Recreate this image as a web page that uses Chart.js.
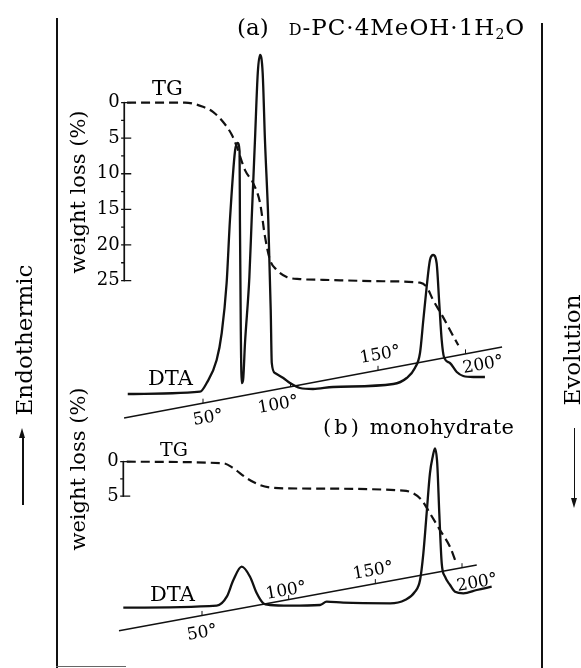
<!DOCTYPE html>
<html>
<head>
<meta charset="utf-8">
<script src="https://cdn.jsdelivr.net/npm/chart.js@4/dist/chart.umd.min.js"></script>
<style>
  html, body { margin: 0; padding: 0; background: #fff; }
  #wrap { position: relative; width: 581px; height: 668px; overflow: hidden; background: #fff; }
  #c { position: absolute; left: 0; top: 0; }
  .t { position: absolute; font-family: 'DejaVu Serif', serif; color: #000; line-height: 1; white-space: nowrap; pointer-events: none; }
  .ln { position: absolute; background: #111; }
  .tl { position: absolute; font-family: 'DejaVu Serif', serif; color: #000; font-size: 17px; line-height: 1; white-space: nowrap; transform: translate(-50%, -50%) rotate(-10deg); }
</style>
</head>
<body>
<div id="wrap">
  <canvas id="c" width="581" height="668"></canvas>

  <!-- frame -->
  <div class="ln" style="left:56px;top:18px;width:2px;height:650px;"></div>
  <div class="ln" style="left:56px;top:666px;width:70px;height:1px;background:#666;"></div>
  <div class="ln" style="left:541px;top:23px;width:2px;height:645px;"></div>

  <!-- side labels -->
  <div class="t" style="font-size:23px;left:23.7px;top:340px;transform:translate(-50%,-50%) rotate(-90deg);">Endothermic</div>
  <div class="ln" style="left:22px;top:436px;width:1.5px;height:69px;"></div>
  <div style="position:absolute;left:19px;top:428px;width:0;height:0;border-left:3.8px solid transparent;border-right:3.8px solid transparent;border-bottom:10px solid #111;"></div>
  <div class="t" style="font-size:23px;left:572px;top:350px;transform:translate(-50%,-50%) rotate(-90deg);">Evolution</div>
  <div class="ln" style="left:573.5px;top:428px;width:1.5px;height:72px;"></div>
  <div style="position:absolute;left:570.5px;top:498px;width:0;height:0;border-left:3.8px solid transparent;border-right:3.8px solid transparent;border-top:10px solid #111;"></div>

  <!-- panel titles -->
  <div class="t" style="font-size:23px;left:237px;top:15.5px;"><span>(a)</span><span style="margin-left:20px;letter-spacing:1px;"><span style="font-size:16px;">D</span>-PC·4MeOH·1H<span style="font-size:14px;position:relative;top:4px;">2</span>O</span></div>
  <div class="t" style="font-size:21px;left:323px;top:416.5px;"><span style="letter-spacing:3px;">(b)</span><span style="margin-left:8px;letter-spacing:0.3px;">monohydrate</span></div>

  <!-- curve labels -->
  <div class="t" style="font-size:21px;left:152px;top:77.5px;">TG</div>
  <div class="t" style="font-size:21px;left:148px;top:367.5px;">DTA</div>
  <div class="t" style="font-size:19px;left:160px;top:439.5px;">TG</div>
  <div class="t" style="font-size:21px;left:150px;top:584.2px;">DTA</div>

  <!-- y-axis titles -->
  <div class="t" style="font-size:21px;left:78px;top:192px;transform:translate(-50%,-50%) rotate(-90deg);">weight loss (%)</div>
  <div class="t" style="font-size:21px;left:78px;top:469px;transform:translate(-50%,-50%) rotate(-90deg);">weight loss (%)</div>
</div>

<script>
// ---------------- DATA ----------------
// Temperature ticks (°C) on the slanted temperature lines
const tempTicks = [50, 100, 150, 200];
// TG axis tick labels (weight loss %)
const tgTicksA = [0, 5, 10, 15, 20, 25];
const tgTicksB = [0, 5];

// (a) D-PC·4MeOH·1H2O — DTA trace (temperature °C, ΔT arbitrary units, endothermic up)
const dtaA_T = [7, 48.3, 52.1, 57.8, 60.7, 63.5, 65.4, 68.3, 69.8, 70.9, 71.1, 71.6, 72.1, 72.9, 74.0, 76.5, 77.8, 79.7, 81.3, 82.6, 84.1, 85.4, 87.3, 88.7, 89.3, 91.1, 95.9, 99.7, 105.4, 112.9, 124.3, 158.7, 166.4, 171.1, 174.0, 175.9, 177.8, 179.7, 181.6, 183.5, 185.0, 186.4, 187.7, 191.1, 195.0, 198.7, 204.5, 211.1];
const dtaA_V = [0, 0.23, 1.1, 3.4, 6.1, 11.1, 17.4, 24.3, 25.1, 24.3, 17.4, 6.4, 1.1, 1.4, 5.1, 11.7, 17.4, 25.4, 32.1, 33.9, 32.1, 25.4, 17.4, 8.4, 3.1, 2.1, 1.6, 1.1, 0.6, 0.5, 0.7, 1.0, 1.6, 2.6, 4.1, 7.4, 10.7, 13.4, 13.9, 13.1, 9.1, 5.4, 3.7, 3.1, 2.2, 1.8, 1.7, 1.7];
// (a) TG trace (temperature °C, weight loss %)
const tgA_T = [6.6, 39.7, 50, 55.7, 61.4, 66.6, 69.3, 74.0, 78.6, 82.6, 85.4, 88.3, 92.1, 97.8, 105.4, 118.6, 152.9, 174.0, 177.8, 181.4, 187.1, 192.1, 195.9];
const tgA_W = [0, 0, 0.6, 1.3, 2.7, 4.6, 6.2, 9.5, 11.3, 14.1, 18.8, 22.1, 23.5, 24.5, 24.8, 24.9, 25.1, 25.3, 25.9, 27.7, 30.1, 32.4, 34.1];
// (a) slanted temperature line (start/end temperature, ΔT units)
const baseA_T = [4.9, 220.9];
const baseA_V = [-2.4, 4.7];

// (b) monohydrate — DTA trace
const dtaB_T = [4.6, 58.5, 64.3, 68.1, 72.9, 77.7, 81.6, 85.4, 89.2, 100.8, 118.1, 121.9, 131.5, 158.5, 167.1, 172.9, 175.8, 177.7, 179.6, 181.5, 183.1, 184.4, 185.7, 186.9, 188.3, 190.2, 193.1, 196.0, 200.8, 208.5, 217.1];
const dtaB_V = [0, 0.2, 1.1, 2.77, 4.1, 3.1, 1.44, 0.44, 0.27, 0.2, 0.27, 0.6, 0.5, 0.44, 0.77, 1.6, 2.77, 5.44, 9.44, 13.44, 15.1, 15.94, 14.44, 9.44, 4.44, 3.1, 2.27, 1.6, 1.44, 1.77, 2.1];
// (b) TG trace
const tgB_T = [6.6, 62.3, 68.1, 75.8, 83.5, 91.1, 106.5, 166.1, 171.9, 176.8, 181.5, 187.3, 193.1, 196.0];
const tgB_W = [0, 0.23, 0.95, 2.4, 3.4, 3.8, 3.9, 4.2, 4.6, 5.6, 7.5, 9.96, 12.4, 14.3];
// (b) slanted temperature line
const baseB_T = [2.1, 208.5];
const baseB_V = [-2.3, 4.27];

// ---------------- LAYOUT / STYLE (not data) ----------------
const INK = '#111';
const tgAxisAtA = 5;     // temperature value where TG axis (a) stands
const tgAxisAtB = 4.6;   // temperature value where TG axis (b) stands
const labelGap = 2.6;    // °C gap between TG tick labels and axis line
const majorLeft = 1.8;   // major TG tick extent left of axis (°C)
const majorRight = 4;    // major TG tick extent right of axis (°C)
const minorLen = 1.8;    // minor TG tick length, left side (°C)
const labelOffsetA = { 50: [5, 14], 100: [-13, 17], 150: [2, -16], 200: [17, 10] };
const labelOffsetB = { 50: [0, 17], 100: [-3, -10], 150: [-2, -14], 200: [15, 14] };

// ---------------- BUILD ----------------
const pts = (xs, ys) => xs.map((x, i) => ({ x: x, y: ys[i] }));
const lineAt = (Ts, Vs, T) => Vs[0] + (Vs[1] - Vs[0]) * (T - Ts[0]) / (Ts[1] - Ts[0]);
function withMinor(major) {
  const out = [];
  major.forEach((v, i) => {
    out.push(v);
    if (i < major.length - 1) out.push((v + major[i + 1]) / 2);
  });
  return out;
}
function tickSegs(Ts, Vs) {
  const out = [];
  tempTicks.forEach(T => {
    const v = lineAt(Ts, Vs, T);
    out.push({ x: T, y: v }, { x: T, y: v + 0.45 }, { x: T, y: null });
  });
  return out;
}
function tgTickSegs(at, ticksArr) {
  const out = [];
  withMinor(ticksArr).forEach(v => {
    const major = ticksArr.indexOf(v) >= 0;
    const x0 = major ? at - majorLeft : at - minorLen;
    const x1 = major ? at + majorRight : at;
    out.push({ x: x0, y: v }, { x: x1, y: v }, { x: x1, y: null });
  });
  return out;
}

const solid = { borderColor: INK, pointRadius: 0, fill: false, cubicInterpolationMode: 'monotone' };
const seg = { borderColor: INK, pointRadius: 0, spanGaps: false, tension: 0 };

const datasets = [
  Object.assign({ label: 'DTA (a)', data: pts(dtaA_T, dtaA_V), xAxisID: 'xa', yAxisID: 'ya', borderWidth: 2.3 }, solid),
  Object.assign({ label: 'TG (a)', data: pts(tgA_T, tgA_W), xAxisID: 'xa', yAxisID: 'tga', borderWidth: 2.2, borderDash: [9, 5] }, solid),
  Object.assign({ label: 'T line (a)', data: pts(baseA_T, baseA_V), xAxisID: 'xa', yAxisID: 'ya', borderWidth: 1.4 }, seg),
  Object.assign({ label: 'T ticks (a)', data: tickSegs(baseA_T, baseA_V), xAxisID: 'xa', yAxisID: 'ya', borderWidth: 1 }, seg),
  Object.assign({ label: 'TG axis (a)', data: [{ x: tgAxisAtA, y: tgTicksA[0] }, { x: tgAxisAtA, y: tgTicksA[tgTicksA.length - 1] }], xAxisID: 'xa', yAxisID: 'tga', borderWidth: 1.7 }, seg),
  Object.assign({ label: 'TG ticks (a)', data: tgTickSegs(tgAxisAtA, tgTicksA), xAxisID: 'xa', yAxisID: 'tga', borderWidth: 1.3 }, seg),

  Object.assign({ label: 'DTA (b)', data: pts(dtaB_T, dtaB_V), xAxisID: 'xb', yAxisID: 'yb', borderWidth: 2.3 }, solid),
  Object.assign({ label: 'TG (b)', data: pts(tgB_T, tgB_W), xAxisID: 'xb', yAxisID: 'tgb', borderWidth: 2.2, borderDash: [9, 5] }, solid),
  Object.assign({ label: 'T line (b)', data: pts(baseB_T, baseB_V), xAxisID: 'xb', yAxisID: 'yb', borderWidth: 1.4 }, seg),
  Object.assign({ label: 'T ticks (b)', data: tickSegs(baseB_T, baseB_V), xAxisID: 'xb', yAxisID: 'yb', borderWidth: 1 }, seg),
  Object.assign({ label: 'TG axis (b)', data: [{ x: tgAxisAtB, y: tgTicksB[0] }, { x: tgAxisAtB, y: tgTicksB[tgTicksB.length - 1] }], xAxisID: 'xb', yAxisID: 'tgb', borderWidth: 1.7 }, seg),
  Object.assign({ label: 'TG ticks (b)', data: tgTickSegs(tgAxisAtB, tgTicksB), xAxisID: 'xb', yAxisID: 'tgb', borderWidth: 1.3 }, seg)
];

function tgScale(axisX, xValue, ticksArr, min, max) {
  const pos = {}; pos[axisX] = xValue - labelGap;
  return {
    type: 'linear', axis: 'y', position: pos, reverse: true, min: min, max: max,
    afterBuildTicks: s => { s.ticks = ticksArr.map(v => ({ value: v })); },
    afterFit: s => { s.paddingTop = 0; s.paddingBottom = 0; s.paddingLeft = 0; s.paddingRight = 0; },
    border: { display: false },
    grid: { display: false, drawOnChartArea: false, drawTicks: false },
    ticks: {
      autoSkip: false, padding: 0, color: '#000',
      font: { family: "'DejaVu Serif', serif", size: 18 },
      callback: v => String(v)
    }
  };
}

function placeLabels(chart, xid, yid, Ts, Vs, offs, tag) {
  const wrap = document.getElementById('wrap');
  tempTicks.forEach(T => {
    const id = 'tl' + tag + T;
    let el = document.getElementById(id);
    if (!el) { el = document.createElement('div'); el.id = id; el.className = 'tl'; wrap.appendChild(el); }
    el.textContent = T + '°';
    const px = chart.scales[xid].getPixelForValue(T);
    const py = chart.scales[yid].getPixelForValue(lineAt(Ts, Vs, T));
    const o = offs[T];
    el.style.left = (px + o[0]) + 'px';
    el.style.top = (py + o[1]) + 'px';
  });
}

const labelPlugin = {
  id: 'tempLabels',
  afterDraw(chart) {
    placeLabels(chart, 'xa', 'ya', baseA_T, baseA_V, labelOffsetA, 'a');
    placeLabels(chart, 'xb', 'yb', baseB_T, baseB_V, labelOffsetB, 'b');
  }
};

new Chart(document.getElementById('c'), {
  type: 'line',
  data: { datasets: datasets },
  plugins: [labelPlugin],
  options: {
    responsive: false,
    animation: false,
    layout: { padding: 0 },
    plugins: { legend: { display: false }, tooltip: { enabled: false } },
    elements: { line: { borderCapStyle: 'butt', borderJoinStyle: 'round' } },
    scales: {
      xa: { type: 'linear', display: false, min: -66.0, max: 266.0 },
      xb: { type: 'linear', display: false, min: -66.54, max: 268.65 },
      ya: { type: 'linear', display: false, min: -27.4, max: 39.4 },
      yb: { type: 'linear', display: false, min: -6.03, max: 60.77 },
      tga: tgScale('xa', tgAxisAtA, tgTicksA, -14.4, 79.42),
      tgb: tgScale('xb', tgAxisAtB, tgTicksB, -67.21, 30.03)
    }
  }
});
</script>
</body>
</html>
